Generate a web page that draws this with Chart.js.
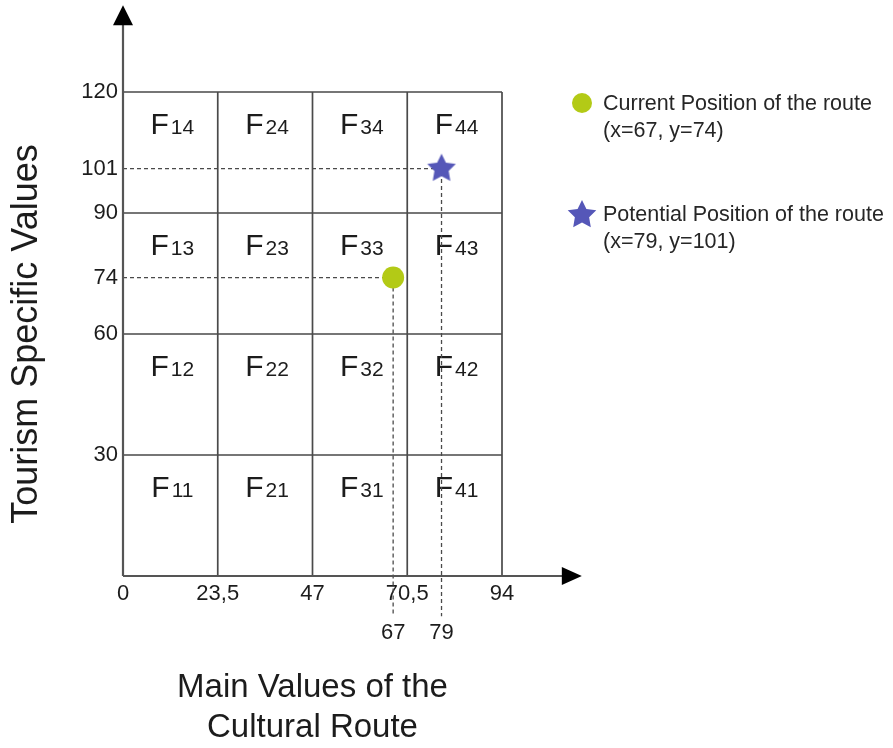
<!DOCTYPE html>
<html lang="en">
<head>
<meta charset="UTF-8">
<title>Cultural Route Position Matrix</title>
<script src="https://cdn.jsdelivr.net/npm/chart.js"></script>
<style>
  html, body { margin: 0; padding: 0; background: #fff; }
  #wrap { width: 893px; height: 748px; }
</style>
</head>
<body>
<div id="wrap"><canvas id="matrix" width="893" height="748"></canvas></div>
<script>
// cell boundaries of the 4x4 matrix
const xBounds = [0, 23.5, 47, 70.5, 94];
const yBounds = [0, 30, 60, 90, 120];

// tick labels
const xTickValues = [0, 23.5, 47, 70.5, 94];
const xMarkValues = [67, 79];
const yTickValues = [30, 60, 74, 90, 101, 120];

// route positions
const currentPos = { x: 67, y: 74 };
const potentialPos = { x: 79, y: 101 };

// cell names: F{column}{row}
const colIds = ['1', '2', '3', '4'];
const rowIds = ['1', '2', '3', '4'];

const legendItems = [
    { label: 'Current Position of the route', sub: '(x=67, y=74)' },
    { label: 'Potential Position of the route', sub: '(x=79, y=101)' }
];

// arrow tips of the axes and end of the dashed drops (data units)
const arrowX = 113.8, arrowY = 141.5, dropEnd = -10;

const FONT = '"Liberation Sans", Arial, sans-serif';
const GREEN = '#b3ca16';
const BLUE = '#5557b8';
const INK = '#1c1c1c';
Chart.defaults.font.family = FONT;

function makeStar(r, color) {
    const c = document.createElement('canvas');
    c.width = c.height = Math.ceil(r * 2 + 2);
    const g = c.getContext('2d');
    g.fillStyle = color;
    g.beginPath();
    for (let i = 0; i < 10; i++) {
        const rad = i % 2 === 0 ? r : r * 0.5;
        const a = -Math.PI / 2 + i * Math.PI / 5;
        g.lineTo(c.width / 2 + rad * Math.cos(a), c.height / 2 + rad * Math.sin(a));
    }
    g.closePath();
    g.fill();
    return c;
}
const starImg = makeStar(15, BLUE);

// build line data from the boundaries (null breaks the line)
const gap = { x: null, y: null };
const gridPts = [];
xBounds.slice(1).forEach(x => gridPts.push({ x: x, y: yBounds[0] }, { x: x, y: yBounds[yBounds.length - 1] }, gap));
yBounds.slice(1).forEach(y => gridPts.push({ x: xBounds[0], y: y }, { x: xBounds[xBounds.length - 1], y: y }, gap));

const axisPts = [{ x: 0, y: 0 }, { x: arrowX - 3, y: 0 }, gap, { x: 0, y: 0 }, { x: 0, y: arrowY - 3 }];

const guidePts = [];
[potentialPos, currentPos].forEach(p => {
    guidePts.push({ x: 0, y: p.y }, { x: p.x, y: p.y }, { x: p.x, y: dropEnd }, gap);
});

const cellLabels = {
    id: 'cellLabels',
    beforeDatasetsDraw(chart) {
        const ctx = chart.ctx, xs = chart.scales.x, ys = chart.scales.y;
        ctx.save();
        ctx.fillStyle = INK;
        ctx.textBaseline = 'alphabetic';
        ctx.textAlign = 'left';
        colIds.forEach((c, i) => {
            const cx = (xs.getPixelForValue(xBounds[i]) + xs.getPixelForValue(xBounds[i + 1])) / 2;
            rowIds.forEach((r, j) => {
                const top = ys.getPixelForValue(yBounds[j + 1]);
                const base = top + 42;
                ctx.font = '30px ' + FONT;
                const wF = ctx.measureText('F').width;
                ctx.font = '21px ' + FONT;
                const wN = ctx.measureText(c + r).width;
                const start = cx + 2 - (wF + 2 + wN) / 2;
                ctx.font = '30px ' + FONT;
                ctx.fillText('F', start, base);
                ctx.font = '21px ' + FONT;
                ctx.fillText(c + r, start + wF + 2, base);
            });
        });
        ctx.restore();
    }
};

const axisArrows = {
    id: 'axisArrows',
    afterDatasetsDraw(chart) {
        const ctx = chart.ctx, xs = chart.scales.x, ys = chart.scales.y;
        const x0 = xs.getPixelForValue(0), y0 = ys.getPixelForValue(0);
        const tx = xs.getPixelForValue(arrowX), ty = ys.getPixelForValue(arrowY);
        ctx.save();
        ctx.fillStyle = '#000';
        ctx.beginPath();
        ctx.moveTo(tx, y0);
        ctx.lineTo(tx - 20, y0 - 9);
        ctx.lineTo(tx - 20, y0 + 9);
        ctx.closePath();
        ctx.moveTo(x0, ty);
        ctx.lineTo(x0 - 10, ty + 20);
        ctx.lineTo(x0 + 10, ty + 20);
        ctx.closePath();
        ctx.fill();
        ctx.restore();
    }
};

const sideLegend = {
    id: 'sideLegend',
    afterDraw(chart) {
        const ctx = chart.ctx;
        ctx.save();
        ctx.fillStyle = GREEN;
        ctx.beginPath();
        ctx.arc(582, 103, 10, 0, Math.PI * 2);
        ctx.fill();
        ctx.drawImage(starImg, 582 - starImg.width / 2, 215 - starImg.height / 2);
        ctx.fillStyle = '#262626';
        ctx.font = '21.5px ' + FONT;
        ctx.textBaseline = 'middle';
        ctx.textAlign = 'left';
        ctx.fillText(legendItems[0].label, 603, 104);
        ctx.fillText(legendItems[0].sub, 603, 131);
        ctx.fillText(legendItems[1].label, 603, 215);
        ctx.fillText(legendItems[1].sub, 603, 242);
        ctx.restore();
    }
};

const tickFont = { size: 22, family: FONT };

new Chart(document.getElementById('matrix'), {
    type: 'scatter',
    data: {
        datasets: [
            { label: 'Potential Position of the route', data: [potentialPos],
              pointStyle: starImg, pointRadius: 15, clip: false },
            { label: 'Current Position of the route', data: [currentPos],
              pointStyle: 'circle', pointRadius: 11, backgroundColor: GREEN, borderWidth: 0, clip: false },
            { label: 'axes', data: axisPts, showLine: true, pointRadius: 0,
              borderColor: '#555', borderWidth: 2.2, clip: false },
            { label: 'guides', data: guidePts, showLine: true, pointRadius: 0,
              borderColor: '#4a4a4a', borderWidth: 1.3, borderDash: [4, 3], clip: false },
            { label: 'grid', data: gridPts, showLine: true, pointRadius: 0,
              borderColor: '#4a4a4a', borderWidth: 1.7, clip: false }
        ]
    },
    options: {
        responsive: false,
        animation: false,
        devicePixelRatio: 1,
        events: [],
        layout: { padding: { top: 92, right: 391, bottom: 0, left: 0 } },
        plugins: { legend: { display: false }, tooltip: { enabled: false } },
        scales: {
            x: {
                type: 'linear', position: 'bottom', weight: 0, min: 0, max: 94,
                grid: { display: false, drawTicks: false }, border: { display: false },
                afterBuildTicks: s => { s.ticks = xTickValues.map(v => ({ value: v })); },
                afterFit: s => { s.height = 36; },
                ticks: { padding: 5, color: INK, font: tickFont, autoSkip: false, maxRotation: 0,
                         callback: v => String(v).replace('.', ',') }
            },
            x2: {
                type: 'linear', axis: 'x', position: 'bottom', weight: 1, min: 0, max: 94,
                grid: { display: false, drawTicks: false }, border: { display: false },
                afterBuildTicks: s => { s.ticks = xMarkValues.map(v => ({ value: v })); },
                afterFit: s => { s.height = 136; },
                ticks: { padding: 8, color: INK, font: tickFont, autoSkip: false, maxRotation: 0 },
                title: { display: true, text: ['Main Values of the', 'Cultural Route'], color: INK,
                         font: { size: 33, family: FONT, lineHeight: 1.22 }, padding: { top: 0, bottom: 0 } }
            },
            y: {
                type: 'linear', position: 'left', min: 0, max: 120,
                grid: { display: false, drawTicks: false }, border: { display: false },
                afterBuildTicks: s => { s.ticks = yTickValues.map(v => ({ value: v })); },
                afterFit: s => { s.width = 123; },
                ticks: { padding: 5, color: INK, font: tickFont, autoSkip: false },
                title: { display: true, text: 'Tourism Specific Values', color: INK,
                         font: { size: 36, family: FONT, lineHeight: 1.2 }, padding: { top: 5, bottom: 0 } }
            }
        }
    },
    plugins: [cellLabels, axisArrows, sideLegend]
});
</script>
</body>
</html>
